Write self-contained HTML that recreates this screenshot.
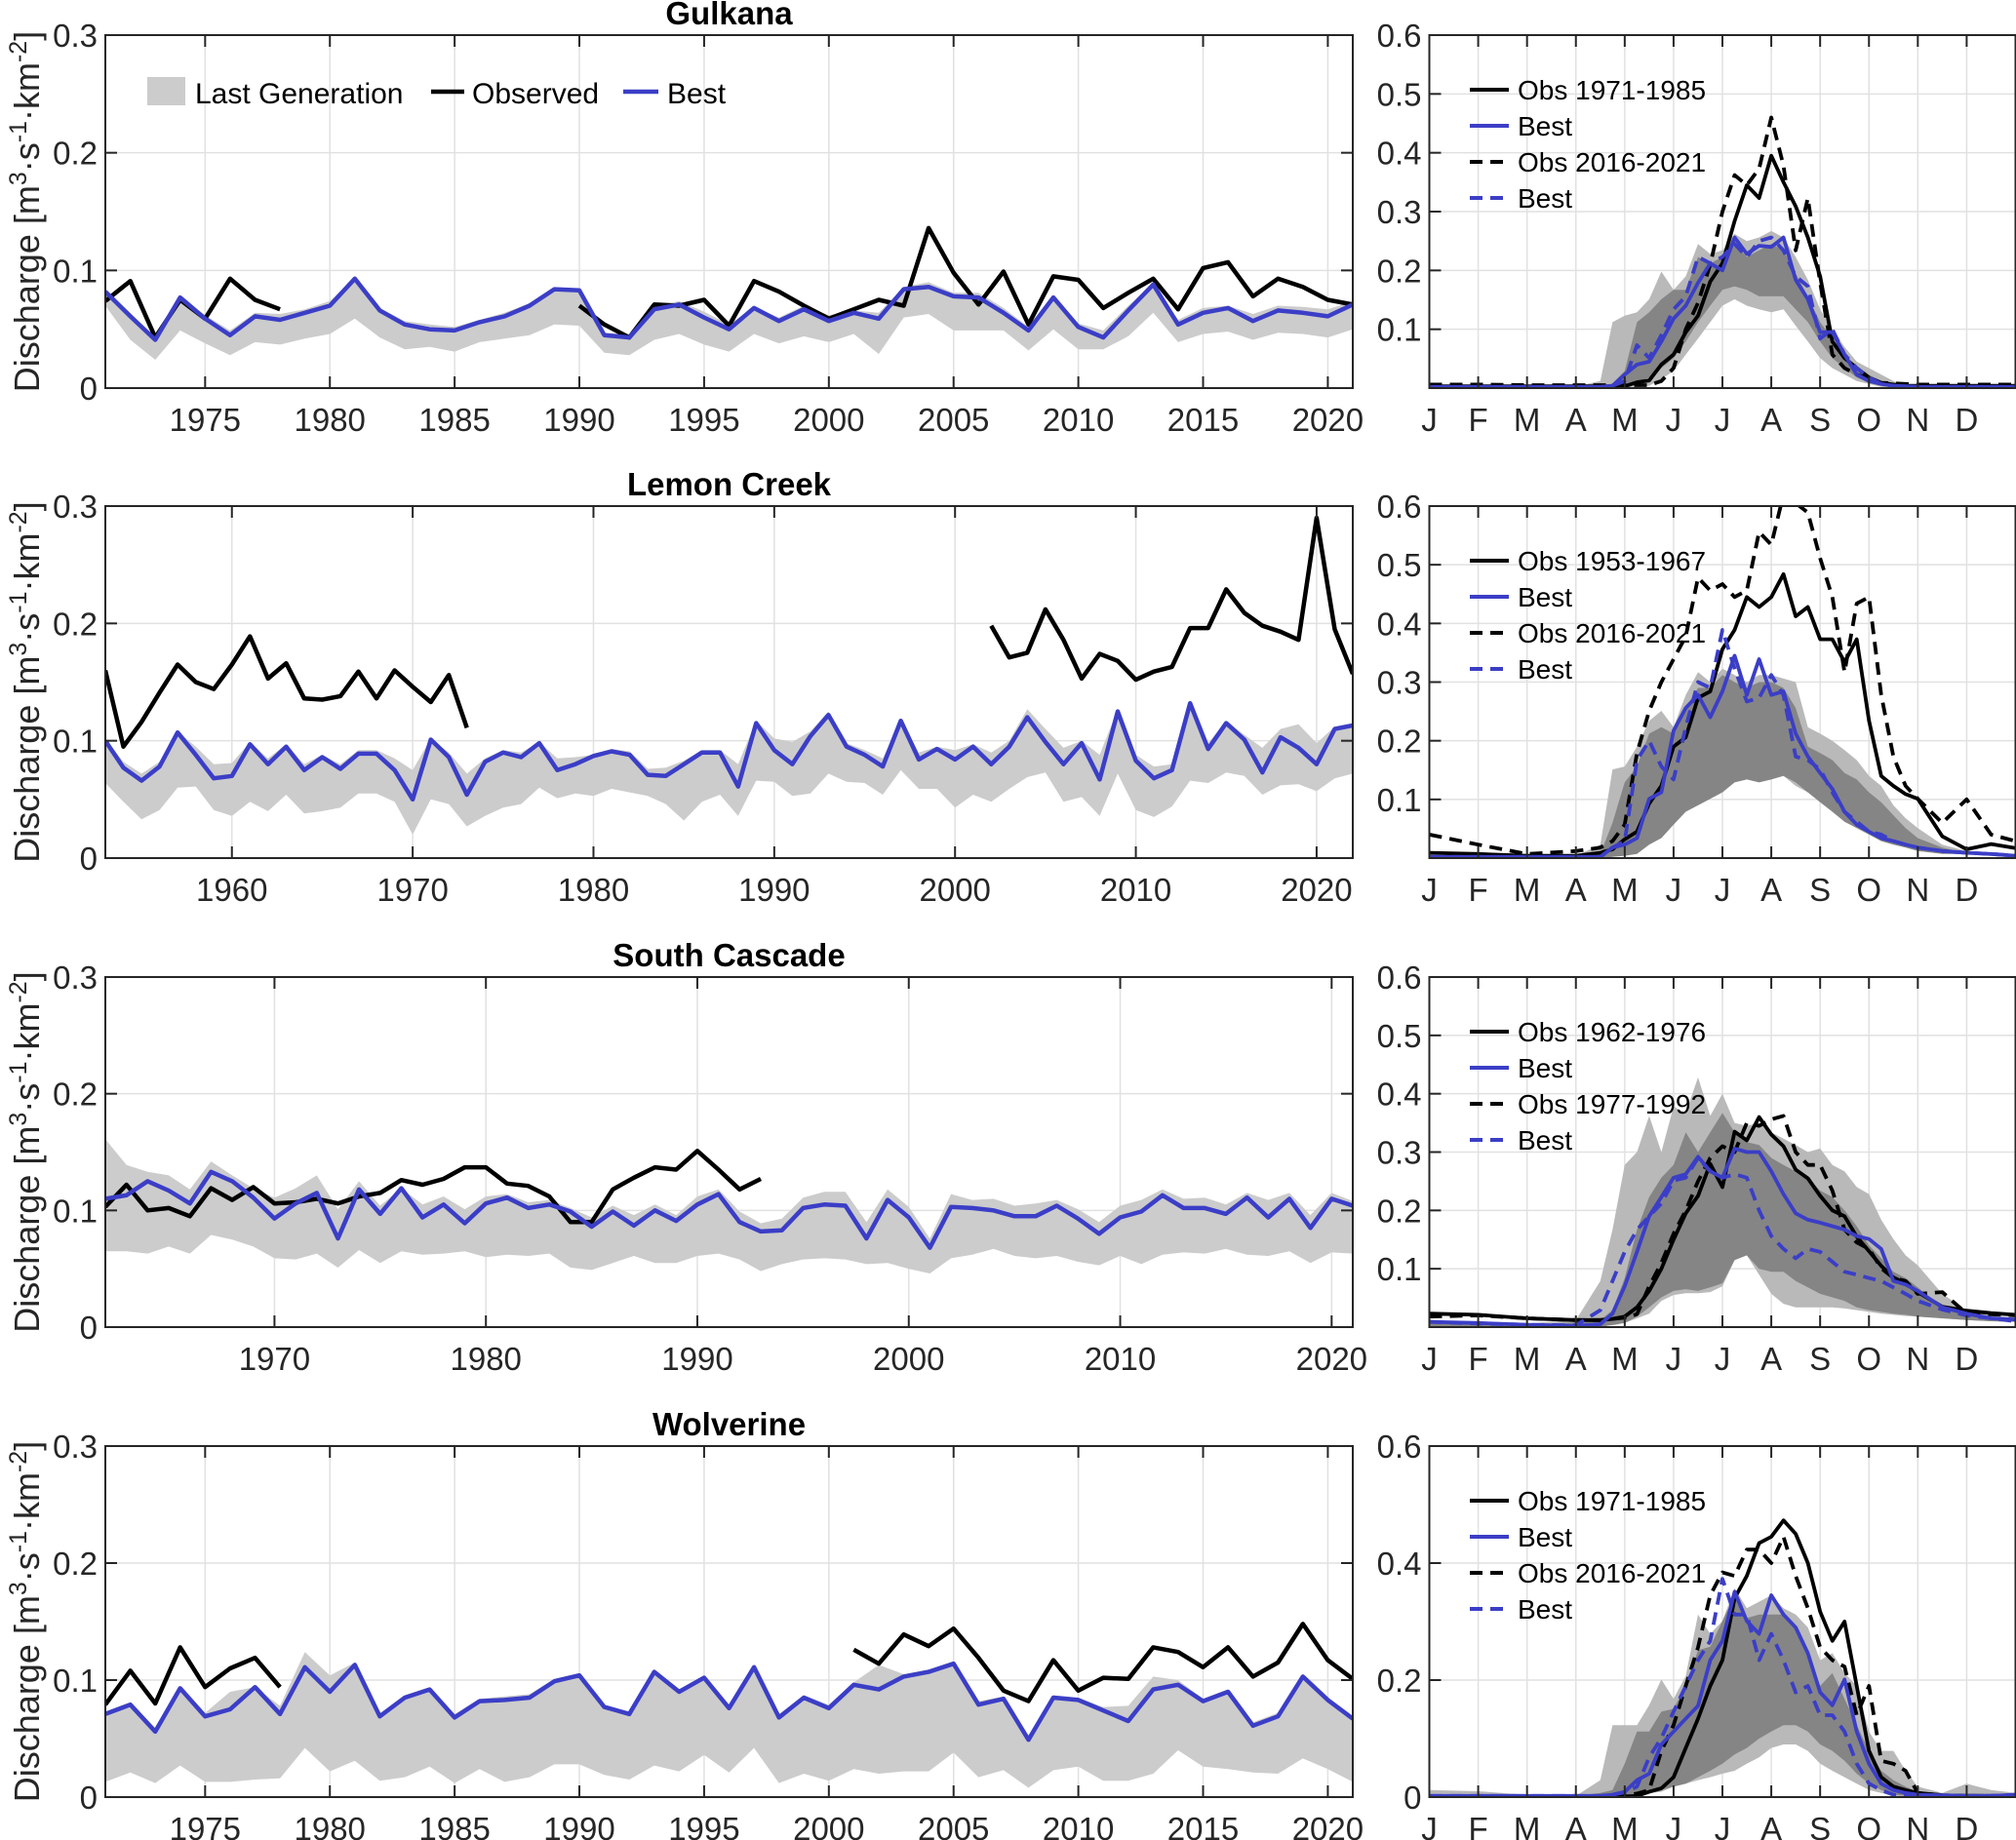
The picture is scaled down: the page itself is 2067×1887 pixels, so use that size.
<!DOCTYPE html>
<html><head><meta charset="utf-8"><title>Glacier discharge</title>
<style>
html,body{margin:0;padding:0;background:#fff;}
svg{display:block;font-family:"Liberation Sans",Arial,sans-serif;}
</style></head>
<body>
<svg id="chart" xmlns="http://www.w3.org/2000/svg" width="2067" height="1887" viewBox="0 0 2067 1887"></svg>
<script>
// ---------------- Annual data (left panels) ----------------
const gulkanaStart = 1971, gulkanaEnd = 2021;
const gulkanaBest = [.082,.061,.041,.077,.059,.045,.061,.058,.064,.070,.093,.066,.054,.050,.049,.056,.061,.070,.084,.083,.045,.043,.067,.071,.060,.050,.068,.057,.067,.057,.064,.059,.084,.086,.078,.077,.064,.049,.077,.052,.043,.066,.088,.054,.064,.068,.057,.066,.064,.061,.071];
const gulkanaObs = [.074,.091,.043,.075,.059,.093,.075,.067,null,null,null,null,null,null,null,null,null,null,null,.070,.054,.043,.071,.070,.075,.053,.091,.082,.070,.059,.067,.075,.070,.136,.098,.071,.099,.054,.095,.092,.068,.081,.093,.067,.102,.107,.078,.093,.086,.075,.071];
const gulkanaLow = [.070,.041,.024,.049,.038,.028,.039,.037,.042,.046,.059,.043,.033,.035,.031,.039,.042,.045,.054,.053,.030,.028,.041,.046,.037,.031,.046,.038,.044,.039,.046,.029,.060,.063,.049,.049,.049,.032,.050,.033,.033,.044,.064,.039,.046,.048,.041,.047,.046,.043,.050];
const gulkanaHigh = [.084,.064,.043,.078,.062,.049,.064,.063,.067,.074,.094,.068,.057,.054,.052,.058,.064,.072,.085,.084,.047,.046,.069,.074,.065,.054,.069,.060,.070,.062,.066,.064,.086,.090,.081,.081,.068,.052,.079,.055,.049,.070,.089,.058,.068,.070,.063,.070,.069,.067,.074];
const gulkanaTicks = [1975,1980,1985,1990,1995,2000,2005,2010,2015,2020];

const lemonStart = 1953, lemonEnd = 2022;
const lemonBest = [.100,.077,.066,.078,.107,.088,.068,.070,.097,.080,.095,.075,.086,.076,.089,.089,.075,.050,.101,.086,.054,.082,.090,.086,.098,.075,.080,.087,.091,.088,.071,.070,.080,.090,.090,.061,.115,.092,.080,.104,.122,.095,.088,.078,.117,.084,.093,.084,.095,.080,.095,.120,.099,.080,.098,.067,.125,.083,.068,.075,.132,.093,.115,.101,.073,.103,.094,.080,.110,.113];
const lemonObs = [.160,.095,.116,.141,.165,.150,.144,.165,.189,.153,.166,.136,.135,.138,.159,.136,.160,.146,.133,.156,.111,null,null,null,null,null,null,null,null,null,null,null,null,null,null,null,null,null,null,null,null,null,null,null,null,null,null,null,null,.198,.171,.175,.212,.186,.153,.174,.168,.152,.159,.163,.196,.196,.229,.209,.198,.193,.186,.290,.195,.157];
const lemonLow = [.064,.048,.033,.041,.060,.061,.041,.036,.048,.040,.054,.038,.040,.043,.055,.055,.048,.020,.050,.046,.027,.036,.043,.046,.060,.051,.055,.053,.059,.056,.053,.046,.032,.048,.054,.036,.066,.065,.053,.055,.072,.065,.064,.054,.075,.059,.059,.043,.054,.048,.059,.069,.073,.048,.052,.036,.072,.041,.035,.044,.066,.064,.073,.070,.054,.062,.063,.057,.068,.072];
const lemonHigh = [.102,.082,.072,.082,.108,.095,.080,.081,.099,.085,.097,.080,.088,.080,.092,.092,.085,.075,.102,.090,.072,.085,.092,.090,.099,.085,.086,.088,.093,.091,.076,.077,.083,.092,.092,.080,.117,.102,.099,.108,.125,.098,.092,.085,.118,.090,.095,.092,.097,.090,.100,.127,.110,.094,.100,.088,.127,.088,.078,.080,.134,.098,.117,.105,.094,.110,.114,.098,.112,.115];
const lemonTicks = [1960,1970,1980,1990,2000,2010,2020];

const cascadeStart = 1962, cascadeEnd = 2021;
const cascadeBest = [.110,.113,.125,.117,.106,.133,.125,.111,.093,.106,.115,.076,.118,.097,.119,.094,.105,.089,.106,.111,.102,.105,.099,.086,.099,.087,.100,.091,.105,.114,.090,.082,.083,.102,.105,.104,.076,.109,.094,.068,.103,.102,.100,.095,.095,.104,.093,.080,.094,.099,.113,.102,.102,.097,.111,.094,.110,.085,.110,.104];
const cascadeObs = [.103,.122,.100,.102,.095,.119,.109,.120,.106,.107,.110,.106,.112,.115,.126,.122,.127,.137,.137,.123,.121,.112,.090,.090,.118,.128,.137,.135,.151,.135,.118,.127,null,null,null,null,null,null,null,null,null,null,null,null,null,null,null,null,null,null,null,null,null,null,null,null,null,null,null,null];
const cascadeLow = [.065,.065,.063,.069,.063,.079,.075,.069,.059,.058,.063,.051,.066,.055,.065,.062,.063,.065,.060,.062,.061,.063,.051,.049,.055,.061,.055,.055,.061,.063,.058,.048,.054,.058,.059,.058,.054,.055,.050,.046,.059,.062,.067,.061,.059,.061,.056,.053,.061,.054,.062,.064,.063,.067,.062,.061,.065,.055,.064,.063];
const cascadeHigh = [.161,.139,.133,.130,.118,.142,.130,.119,.111,.119,.130,.101,.125,.104,.119,.105,.112,.101,.112,.114,.107,.109,.102,.094,.104,.096,.105,.096,.112,.118,.099,.089,.093,.111,.116,.116,.090,.118,.103,.076,.114,.109,.110,.104,.106,.109,.101,.090,.104,.109,.118,.110,.111,.105,.115,.109,.115,.096,.115,.108];
const cascadeTicks = [1970,1980,1990,2000,2010,2020];

const wolvStart = 1971, wolvEnd = 2021;
const wolvBest = [.071,.079,.056,.093,.069,.075,.094,.071,.111,.090,.113,.069,.085,.092,.068,.082,.083,.085,.099,.104,.077,.071,.107,.090,.102,.076,.111,.068,.085,.076,.096,.092,.103,.107,.114,.079,.084,.049,.085,.083,.074,.065,.092,.096,.082,.090,.061,.069,.103,.083,.067];
const wolvObs = [.079,.108,.080,.128,.094,.110,.119,.094,null,null,null,null,null,null,null,null,null,null,null,null,null,null,null,null,null,null,null,null,null,null,.126,.114,.139,.129,.144,.119,.091,.082,.117,.091,.102,.101,.128,.124,.111,.128,.103,.115,.148,.117,.101];
const wolvLow = [.013,.021,.012,.027,.013,.013,.015,.016,.042,.022,.031,.014,.017,.026,.012,.024,.013,.017,.028,.028,.019,.015,.027,.022,.036,.021,.042,.012,.020,.014,.024,.020,.022,.022,.038,.017,.023,.008,.023,.026,.014,.014,.020,.040,.026,.024,.021,.020,.033,.024,.013];
const wolvHigh = [.073,.081,.058,.095,.072,.090,.094,.078,.124,.104,.115,.071,.087,.094,.071,.084,.086,.088,.101,.106,.079,.073,.109,.092,.104,.078,.113,.071,.087,.079,.098,.113,.105,.109,.116,.082,.086,.052,.087,.085,.077,.078,.103,.100,.084,.092,.064,.072,.105,.085,.069];
const wolvTicks = [1975,1980,1985,1990,1995,2000,2005,2010,2015,2020];

const leftYTicks = [0,0.1,0.2,0.3];
const leftYLabels = ["0","0.1","0.2","0.3"];

// ---------------- Seasonal data (right panels), time in months ----------------
const seasonT = [0,1,2,3,3.5,3.75,4,4.25,4.5,4.75,5,5.25,5.5,5.75,6,6.25,6.5,6.75,7,7.25,7.5,7.75,8,8.25,8.5,8.75,9,9.25,9.5,9.75,10,10.5,11,11.5,12];
const monthLabels = ["J","F","M","A","M","J","J","A","S","O","N","D"];

const gSeasObsA = [.003,.003,.003,.003,.003,.003,.003,.010,.013,.040,.057,.095,.123,.181,.212,.284,.345,.323,.395,.350,.309,.256,.190,.079,.051,.034,.018,.009,.006,.004,.004,.004,.004,.004,.004];
const gSeasObsB = [.006,.006,.005,.005,.005,.005,.005,.005,.005,.012,.034,.100,.145,.210,.300,.362,.345,.373,.460,.378,.234,.323,.179,.057,.034,.023,.015,.009,.008,.007,.006,.006,.006,.006,.006];
const gSeasBestA = [.002,.002,.002,.002,.002,.004,.023,.040,.045,.079,.118,.140,.179,.212,.200,.256,.228,.242,.240,.256,.184,.151,.095,.095,.057,.023,.012,.007,.004,.003,.002,.002,.002,.002,.002];
const gSeasBestB = [.002,.002,.002,.002,.002,.004,.012,.073,.051,.090,.134,.156,.223,.212,.223,.245,.223,.250,.256,.234,.190,.173,.084,.100,.057,.034,.018,.007,.004,.003,.002,.002,.002,.002,.002];
const gSeasLightHi = [.003,.003,.003,.003,.012,.112,.123,.129,.151,.198,.167,.190,.245,.228,.234,.262,.250,.256,.267,.256,.223,.184,.134,.100,.070,.045,.034,.023,.012,.004,.003,.003,.003,.003,.003];
const gSeasLightLo = [0,0,0,0,0,0,.001,.003,.004,.015,.029,.057,.084,.112,.140,.151,.140,.134,.129,.134,.106,.079,.051,.034,.023,.012,.007,.002,0,0,0,0,0,0,0];
const gSeasDarkHi = [.002,.002,.002,.002,.002,.008,.029,.112,.129,.151,.167,.167,.223,.212,.223,.245,.223,.234,.245,.234,.195,.156,.112,.084,.057,.034,.018,.007,.003,.002,.002,.002,.002,.002,.002];
const gSeasDarkLo = [0,0,0,0,0,0,.002,.009,.018,.034,.051,.079,.112,.140,.167,.173,.167,.156,.156,.156,.134,.112,.079,.051,.034,.018,.009,.004,.001,0,0,0,0,0,0];

const lSeasObsA = [.009,.007,.004,.004,.009,.015,.032,.045,.093,.123,.190,.206,.273,.284,.356,.389,.445,.428,.445,.484,.412,.428,.373,.373,.334,.373,.234,.140,.123,.109,.101,.037,.015,.024,.017];
const lSeasObsB = [.040,.023,.007,.012,.018,.029,.057,.179,.251,.300,.339,.378,.478,.456,.467,.445,.456,.556,.534,.620,.605,.589,.511,.445,.317,.434,.445,.278,.173,.123,.101,.060,.100,.040,.029];
const lSeasBestA = [.002,.002,.002,.002,.002,.018,.023,.034,.101,.112,.217,.256,.278,.240,.284,.345,.278,.339,.278,.284,.212,.173,.145,.118,.079,.057,.045,.034,.029,.023,.018,.012,.009,.007,.004];
const lSeasBestB = [.002,.002,.002,.002,.002,.018,.029,.167,.200,.156,.134,.223,.300,.290,.389,.323,.267,.273,.312,.278,.173,.167,.151,.112,.079,.062,.045,.040,.029,.023,.018,.012,.009,.007,.004];
const lSeasLightHi = [.004,.004,.004,.004,.023,.151,.156,.190,.234,.251,.223,.278,.317,.300,.323,.312,.300,.312,.312,.306,.300,.223,.212,.200,.184,.167,.140,.123,.090,.068,.051,.023,.012,.008,.004];
const lSeasLightLo = [0,0,0,0,0,.002,.007,.018,.034,.057,.079,.095,.101,.112,.123,.134,.140,.140,.140,.140,.123,.112,.101,.084,.068,.057,.045,.034,.029,.024,.018,.012,.007,.004,.002];
const lSeasDarkHi = [.003,.003,.003,.003,.007,.060,.129,.156,.212,.223,.212,.256,.290,.290,.312,.300,.290,.300,.300,.290,.256,.190,.179,.167,.145,.134,.112,.095,.073,.051,.034,.018,.009,.006,.004];
const lSeasDarkLo = [0,0,0,0,0,.002,.004,.007,.023,.034,.057,.079,.090,.101,.112,.129,.134,.129,.134,.140,.129,.112,.095,.079,.062,.051,.040,.029,.023,.018,.012,.007,.007,.004,.002];

const cSeasObsA = [.023,.021,.015,.012,.012,.014,.018,.034,.062,.100,.150,.195,.225,.280,.240,.335,.320,.360,.330,.310,.270,.255,.225,.200,.190,.155,.130,.105,.085,.075,.060,.035,.028,.024,.021];
const cSeasObsB = [.018,.020,.015,.012,.012,.014,.016,.022,.070,.110,.160,.200,.250,.290,.310,.300,.350,.345,.356,.362,.300,.278,.278,.234,.167,.145,.134,.101,.084,.079,.057,.060,.023,.022,.020];
const cSeasBestA = [.009,.007,.004,.002,.005,.023,.070,.129,.190,.223,.256,.262,.292,.267,.256,.306,.300,.300,.267,.228,.195,.184,.179,.173,.167,.156,.151,.134,.079,.073,.062,.034,.023,.015,.013];
const cSeasBestB = [.009,.006,.004,.003,.029,.079,.129,.167,.190,.212,.251,.256,.290,.267,.256,.262,.256,.200,.156,.134,.118,.134,.129,.112,.095,.090,.084,.079,.068,.057,.045,.030,.020,.015,.010];
const cSeasLightHi = [.012,.008,.006,.012,.079,.167,.278,.300,.362,.300,.378,.367,.428,.362,.400,.350,.345,.350,.334,.323,.312,.300,.306,.278,.267,.240,.228,.184,.151,.123,.106,.057,.029,.020,.015];
const cSeasLightLo = [0,0,0,0,.002,.003,.007,.015,.023,.045,.055,.058,.058,.060,.070,.115,.123,.090,.057,.040,.034,.034,.034,.034,.032,.029,.026,.023,.021,.019,.018,.015,.012,.010,.009];
const cSeasDarkHi = [.010,.006,.004,.008,.012,.029,.084,.167,.223,.256,.278,.334,.300,.334,.367,.334,.317,.312,.290,.278,.267,.256,.234,.223,.200,.173,.140,.118,.095,.084,.068,.034,.023,.015,.012];
const cSeasDarkLo = [0,0,0,0,0,.004,.007,.018,.034,.051,.062,.065,.062,.068,.075,.115,.123,.100,.095,.095,.079,.068,.057,.051,.045,.034,.029,.026,.023,.021,.018,.015,.012,.010,.009];

const wSeasObsA = [.001,.001,.001,.001,.001,.001,.001,.002,.009,.015,.034,.084,.134,.190,.234,.340,.378,.434,.445,.473,.450,.400,.317,.267,.300,.190,.079,.034,.018,.012,.007,.003,.002,.002,.002];
const wSeasObsB = [.001,.001,.001,.001,.001,.001,.003,.006,.012,.079,.123,.190,.256,.345,.384,.378,.423,.423,.400,.445,.378,.323,.256,.234,.223,.140,.190,.062,.057,.045,.007,.003,.002,.002,.002];
const wSeasBestA = [.002,.002,.002,.002,.002,.004,.009,.029,.040,.090,.112,.134,.156,.234,.267,.351,.301,.279,.345,.312,.290,.246,.179,.157,.201,.112,.057,.023,.012,.007,.004,.003,.002,.002,.004];
const wSeasBestB = [.002,.002,.002,.002,.002,.004,.008,.018,.068,.101,.146,.190,.234,.267,.373,.312,.312,.234,.279,.234,.179,.190,.140,.140,.112,.057,.023,.012,.004,.003,.002,.002,.002,.002,.004];
const wSeasLightHi = [.012,.010,.004,.002,.029,.123,.123,.123,.157,.201,.168,.207,.312,.279,.301,.357,.323,.334,.345,.323,.312,.290,.234,.246,.212,.190,.112,.079,.079,.045,.018,.007,.023,.012,.007];
const wSeasLightLo = [0,0,0,0,0,0,.002,.004,.007,.009,.018,.023,.029,.034,.040,.045,.057,.068,.084,.090,.090,.079,.057,.045,.034,.023,.012,.007,.002,0,0,0,0,0,0];
const wSeasDarkHi = [.004,.003,.002,.002,.007,.012,.057,.112,.112,.146,.151,.190,.251,.257,.301,.345,.306,.312,.312,.312,.290,.246,.190,.212,.168,.123,.079,.045,.029,.018,.009,.004,.006,.004,.003];
const wSeasDarkLo = [0,0,0,0,0,.001,.003,.004,.007,.012,.018,.023,.034,.045,.057,.073,.084,.100,.112,.123,.123,.112,.090,.079,.062,.040,.023,.012,.004,.002,.001,0,0,0,0];

const rightYTicksA = [0.1,0.2,0.3,0.4,0.5,0.6];
const rightYLabelsA = ["0.1","0.2","0.3","0.4","0.5","0.6"];
const rightYTicksB = [0,0.2,0.4,0.6];
const rightYLabelsB = ["0","0.2","0.4","0.6"];

// ---------------- Layout ----------------
const NS = "http://www.w3.org/2000/svg";
const svg = document.getElementById("chart");
const LX0 = 108, LX1 = 1387, RX0 = 1465.5, RX1 = 2066.5;
const rows = [{top:36,bot:398},{top:519,bot:880},{top:1002,bot:1361},{top:1483,bot:1843}];
const BLUE = "#3b3ec6", INK = "#262626";

function el(tag, attrs, parent){
  const e = document.createElementNS(NS, tag);
  for (const k in attrs) e.setAttribute(k, attrs[k]);
  (parent || svg).appendChild(e);
  return e;
}
function txt(s, attrs, parent){
  const t = el("text", attrs, parent);
  t.textContent = s;
  return t;
}

let clipId = 0;
function makeClip(x0, y0, x1, y1){
  const cp = el("clipPath", {id:"clip"+(++clipId)});
  el("rect", {x:x0, y:y0, width:x1-x0, height:y1-y0}, cp);
  return "url(#clip"+clipId+")";
}

function linePath(xs, ys, sx, sy){
  let d = "", pen = false;
  for (let i=0;i<xs.length;i++){
    if (ys[i]===null || ys[i]===undefined){ pen=false; continue; }
    d += (pen?"L":"M") + sx(xs[i]).toFixed(1) + "," + sy(ys[i]).toFixed(1);
    pen = true;
  }
  return d;
}
function bandPath(xs, lo, hi, sx, sy){
  let d = "";
  for (let i=0;i<xs.length;i++) d += (i?"L":"M") + sx(xs[i]).toFixed(1)+","+sy(hi[i]).toFixed(1);
  for (let i=xs.length-1;i>=0;i--) d += "L" + sx(xs[i]).toFixed(1)+","+sy(lo[i]).toFixed(1);
  return d + "Z";
}

function leftPanel(r, title, key, start, end, best, obs, low, high, xticks, showLegend){
  const top = rows[r].top, bot = rows[r].bot;
  const g = el("g", {});
  
  
  const sx = v => LX0 + (v - start)/(end - start)*(LX1-LX0);
  const sy = v => bot - v/0.3*(bot-top);
  const years = best.map((_, i) => start + i);
  xticks.forEach(t => {
    const gl = el("line", {x1:sx(t), x2:sx(t), y1:top, y2:bot, stroke:"#e1e1e1", "stroke-width":1.5}, g);
    
    
  });
  leftYTicks.forEach(t => {
    if (t===0 || t===0.3) return;
    const gl = el("line", {x1:LX0, x2:LX1, y1:sy(t), y2:sy(t), stroke:"#e1e1e1", "stroke-width":1.5}, g);
    
    
  });
  const clip = makeClip(LX0, top, LX1, bot);
  const band = el("path", {d:bandPath(years, low, high, sx, sy), fill:"#cccccc", stroke:"none", "clip-path":clip}, g);
  
  
  const ob = el("path", {d:linePath(years, obs, sx, sy), fill:"none", stroke:"#000", "stroke-width":4.5, "stroke-linejoin":"round", "clip-path":clip}, g);
  
  
  const bl = el("path", {d:linePath(years, best, sx, sy), fill:"none", stroke:BLUE, "stroke-width":4.5, "stroke-linejoin":"round", "clip-path":clip}, g);
  
  
  const box = el("rect", {x:LX0, y:top, width:LX1-LX0, height:bot-top, fill:"none", stroke:INK, "stroke-width":2}, g);
  
  
  xticks.forEach(t => {
    el("line", {x1:sx(t), x2:sx(t), y1:bot, y2:bot-12, stroke:INK, "stroke-width":2}, g);
    el("line", {x1:sx(t), x2:sx(t), y1:top, y2:top+12, stroke:INK, "stroke-width":2}, g);
    const lb = txt(String(t), {x:sx(t), y:bot+44, "font-size":33, "text-anchor":"middle", fill:INK}, g);
    
    
  });
  leftYTicks.forEach((t,i) => {
    el("line", {x1:LX0, x2:LX0+12, y1:sy(t), y2:sy(t), stroke:INK, "stroke-width":2}, g);
    el("line", {x1:LX1, x2:LX1-12, y1:sy(t), y2:sy(t), stroke:INK, "stroke-width":2}, g);
    const lb = txt(leftYLabels[i], {x:LX0-8, y:sy(t)+12, "font-size":33, "text-anchor":"end", fill:INK}, g);
    
    
  });
  const tt = txt(title, {x:(LX0+LX1)/2, y:top-11, "font-size":33, "font-weight":"bold", "text-anchor":"middle", fill:"#000"}, g);
  
  
  const cy = (top+bot)/2;
  const yl = el("text", {x:0, y:0, "font-size":36, "text-anchor":"middle", fill:INK, transform:"translate(40,"+cy+") rotate(-90)"}, g);
  
  
  const parts = [["Discharge [m",0],["3",1],["·s",0],["-1",1],["·km",0],["-2",1],["]",0]];
  parts.forEach(p => {
    const ts = el("tspan", p[1] ? {"font-size":25, dy:-13} : {"font-size":36, dy: 0}, yl);
    ts.textContent = p[0];
  });
  const spans = yl.querySelectorAll("tspan");
  for (let i=1;i<spans.length;i++){
    if (parts[i][1]===0 && parts[i-1][1]===1) spans[i].setAttribute("dy", 13);
  }
  if (showLegend){
    const lg = el("g", {}, g);
    
    
    const p1 = el("rect", {x:151, y:79, width:39, height:29, fill:"#cccccc"}, lg);
    
    
    const t1 = txt("Last Generation", {x:200, y:106, "font-size":30, fill:"#000"}, lg);
    
    
    const p2 = el("line", {x1:442, x2:476, y1:94, y2:94, stroke:"#000", "stroke-width":4.5}, lg);
    
    
    const t2 = txt("Observed", {x:484, y:106, "font-size":30, fill:"#000"}, lg);
    
    
    const p3 = el("line", {x1:639, x2:675, y1:94, y2:94, stroke:BLUE, "stroke-width":4.5}, lg);
    
    
    const t3 = txt("Best", {x:684, y:106, "font-size":30, fill:"#000"}, lg);
    
    
  }
}

function rightPanel(r, key, obsA, obsB, bestA, bestB, lHi, lLo, dHi, dLo, labA, labB, yt, yl){
  const top = rows[r].top, bot = rows[r].bot;
  const g = el("g", {});
  
  
  const sx = v => RX0 + v/12*(RX1-RX0);
  const sy = v => bot - v/0.6*(bot-top);
  for (let m=1;m<12;m++){
    const gl = el("line", {x1:sx(m), x2:sx(m), y1:top, y2:bot, stroke:"#e1e1e1", "stroke-width":1.5}, g);
    
    
  }
  yt.forEach(t => {
    if (t===0 || t===0.6) return;
    const gl = el("line", {x1:RX0, x2:RX1, y1:sy(t), y2:sy(t), stroke:"#e1e1e1", "stroke-width":1.5}, g);
    
    
  });
  const clip = makeClip(RX0, top, RX1, bot);
  const b1 = el("path", {d:bandPath(seasonT, lLo, lHi, sx, sy), fill:"#b9b9b9", "clip-path":clip}, g);
  
  
  const b2 = el("path", {d:bandPath(seasonT, dLo, dHi, sx, sy), fill:"#858585", "clip-path":clip}, g);
  
  
  const l1 = el("path", {d:linePath(seasonT, obsA, sx, sy), fill:"none", stroke:"#000", "stroke-width":3.8, "stroke-linejoin":"round", "clip-path":clip}, g);
  
  
  const l2 = el("path", {d:linePath(seasonT, obsB, sx, sy), fill:"none", stroke:"#000", "stroke-width":3.8, "stroke-dasharray":"13 8", "stroke-linejoin":"round", "clip-path":clip}, g);
  
  
  const l3 = el("path", {d:linePath(seasonT, bestA, sx, sy), fill:"none", stroke:BLUE, "stroke-width":3.8, "stroke-linejoin":"round", "clip-path":clip}, g);
  
  
  const l4 = el("path", {d:linePath(seasonT, bestB, sx, sy), fill:"none", stroke:BLUE, "stroke-width":3.8, "stroke-dasharray":"13 8", "stroke-linejoin":"round", "clip-path":clip}, g);
  
  
  const box = el("rect", {x:RX0, y:top, width:RX1-RX0, height:bot-top, fill:"none", stroke:INK, "stroke-width":2}, g);
  
  
  monthLabels.forEach((m, i) => {
    el("line", {x1:sx(i), x2:sx(i), y1:bot, y2:bot-12, stroke:INK, "stroke-width":2}, g);
    el("line", {x1:sx(i), x2:sx(i), y1:top, y2:top+12, stroke:INK, "stroke-width":2}, g);
    const lb = txt(m, {x:sx(i), y:bot+44, "font-size":33, "text-anchor":"middle", fill:INK}, g);
    
    
  });
  yt.forEach((t,i) => {
    el("line", {x1:RX0, x2:RX0+12, y1:sy(t), y2:sy(t), stroke:INK, "stroke-width":2}, g);
    const lb = txt(yl[i], {x:RX0-8, y:sy(t)+12, "font-size":33, "text-anchor":"end", fill:INK}, g);
    
    
  });
  const lg = el("g", {}, g);
  
  
  const ys = [92,129,166,203].map(v => v + (top-36));
  const entries = [[labA,"#000",""],["Best",BLUE,""],[labB,"#000","13 8"],["Best",BLUE,"13 8"]];
  entries.forEach((e, i) => {
    const sw = el("line", {x1:1507, x2:1547, y1:ys[i], y2:ys[i], stroke:e[1], "stroke-width":4, "stroke-dasharray":e[2]}, lg);
    
    
    const lt = txt(e[0], {x:1556, y:ys[i]+10, "font-size":28, fill:"#000"}, lg);
    
    
  });
}

leftPanel(0, "Gulkana", "gulkana", gulkanaStart, gulkanaEnd, gulkanaBest, gulkanaObs, gulkanaLow, gulkanaHigh, gulkanaTicks, true);
leftPanel(1, "Lemon Creek", "lemon-creek", lemonStart, lemonEnd, lemonBest, lemonObs, lemonLow, lemonHigh, lemonTicks, false);
leftPanel(2, "South Cascade", "south-cascade", cascadeStart, cascadeEnd, cascadeBest, cascadeObs, cascadeLow, cascadeHigh, cascadeTicks, false);
leftPanel(3, "Wolverine", "wolverine", wolvStart, wolvEnd, wolvBest, wolvObs, wolvLow, wolvHigh, wolvTicks, false);

rightPanel(0, "gulkana", gSeasObsA, gSeasObsB, gSeasBestA, gSeasBestB, gSeasLightHi, gSeasLightLo, gSeasDarkHi, gSeasDarkLo, "Obs 1971-1985", "Obs 2016-2021", rightYTicksA, rightYLabelsA);
rightPanel(1, "lemon-creek", lSeasObsA, lSeasObsB, lSeasBestA, lSeasBestB, lSeasLightHi, lSeasLightLo, lSeasDarkHi, lSeasDarkLo, "Obs 1953-1967", "Obs 2016-2021", rightYTicksA, rightYLabelsA);
rightPanel(2, "south-cascade", cSeasObsA, cSeasObsB, cSeasBestA, cSeasBestB, cSeasLightHi, cSeasLightLo, cSeasDarkHi, cSeasDarkLo, "Obs 1962-1976", "Obs 1977-1992", rightYTicksA, rightYLabelsA);
rightPanel(3, "wolverine", wSeasObsA, wSeasObsB, wSeasBestA, wSeasBestB, wSeasLightHi, wSeasLightLo, wSeasDarkHi, wSeasDarkLo, "Obs 1971-1985", "Obs 2016-2021", rightYTicksB, rightYLabelsB);
</script>
</body></html>
